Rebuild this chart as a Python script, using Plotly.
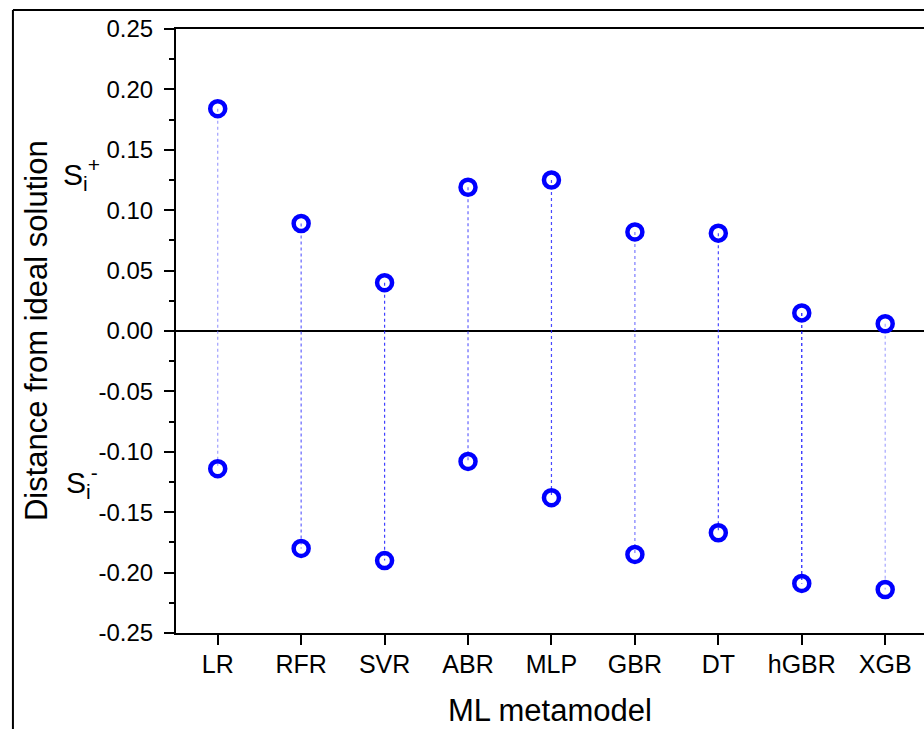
import plotly.graph_objects as go

models = ["LR", "RFR", "SVR", "ABR", "MLP", "GBR", "DT", "hGBR", "XGB"]
s_plus = [0.184, 0.089, 0.040, 0.119, 0.125, 0.082, 0.081, 0.015, 0.006]
s_minus = [-0.114, -0.180, -0.190, -0.108, -0.138, -0.185, -0.167, -0.209, -0.214]
line_colors = ["rgba(120,120,255,0.7)", "rgba(60,60,255,0.8)", "rgba(30,30,255,0.85)",
               "rgba(60,60,255,0.8)", "rgba(40,40,255,0.85)", "rgba(90,90,255,0.8)",
               "rgba(40,40,255,0.85)", "rgba(0,0,255,0.9)", "rgba(130,130,255,0.7)"]
y_ticks = [0.25, 0.20, 0.15, 0.10, 0.05, 0.00, -0.05, -0.10, -0.15, -0.20, -0.25]

fig = go.Figure()

for i, m in enumerate(models):
    fig.add_trace(go.Scatter(
        x=[m, m], y=[s_plus[i], s_minus[i]], mode="lines",
        line=dict(color=line_colors[i], width=1.2, dash="3px,3px"),
        showlegend=False, hoverinfo="skip"))

marker = dict(symbol="circle-open", size=15, color="#0000FF", line=dict(width=4.5, color="#0000FF"))
fig.add_trace(go.Scatter(x=models, y=s_plus, mode="markers", marker=marker, showlegend=False))
fig.add_trace(go.Scatter(x=models, y=s_minus, mode="markers", marker=marker, showlegend=False))

font = "Liberation Sans, Arial, sans-serif"

fig.update_layout(
    width=924, height=729,
    margin=dict(l=176, r=0, t=29, b=96),
    paper_bgcolor="white", plot_bgcolor="white",
    font=dict(family=font, color="black"),
    xaxis=dict(
        type="category", categoryorder="array", categoryarray=models,
        range=[-0.5, 8.465],
        showline=True, linecolor="black", linewidth=2, mirror=True,
        ticks="outside", ticklen=10, tickwidth=2, tickcolor="black",
        tickfont=dict(size=25, family=font), showgrid=False, zeroline=False,
        ticklabelstandoff=-2,
    ),
    yaxis=dict(
        range=[-0.25, 0.25], tickvals=y_ticks,
        ticktext=[f"{v:.2f}" for v in y_ticks],
        showline=True, linecolor="black", linewidth=2,
        ticks="outside", ticklen=10, tickwidth=2, tickcolor="black",
        minor=dict(dtick=0.025, ticks="outside", ticklen=5, tickwidth=2, tickcolor="black", showgrid=False),
        tickfont=dict(size=24, family=font), showgrid=False,
        zeroline=True, zerolinecolor="black", zerolinewidth=2,
        ticklabelstandoff=6,
    ),
    shapes=[
        dict(type="line", xref="paper", yref="paper", x0=-0.218, x1=-0.218, y0=1.0315, y1=-0.2,
             line=dict(color="black", width=2)),
        dict(type="line", xref="paper", yref="paper", x0=-0.218, x1=1.01, y0=1.0315, y1=1.0315,
             line=dict(color="black", width=2)),
    ],
    annotations=[
        dict(text="ML metamodel", xref="paper", yref="paper",
             x=0.5, y=-0.129, showarrow=False,
             font=dict(size=31, family=font), xanchor="center", yanchor="middle"),
        dict(text="Distance from ideal solution", xref="paper", yref="paper",
             x=-0.187, y=0.5, textangle=-90, showarrow=False,
             font=dict(size=31, family=font), xanchor="center", yanchor="middle"),
        dict(text="S<sub>i</sub><sup>+</sup>", xref="paper", yref="paper",
             x=-0.126, y=0.76, showarrow=False, font=dict(size=30, family=font),
             xanchor="center", yanchor="middle"),
        dict(text="S<sub>i</sub><sup>-</sup>", xref="paper", yref="paper",
             x=-0.126, y=0.25, showarrow=False, font=dict(size=30, family=font),
             xanchor="center", yanchor="middle"),
    ],
)

fig.write_html("out.html")
